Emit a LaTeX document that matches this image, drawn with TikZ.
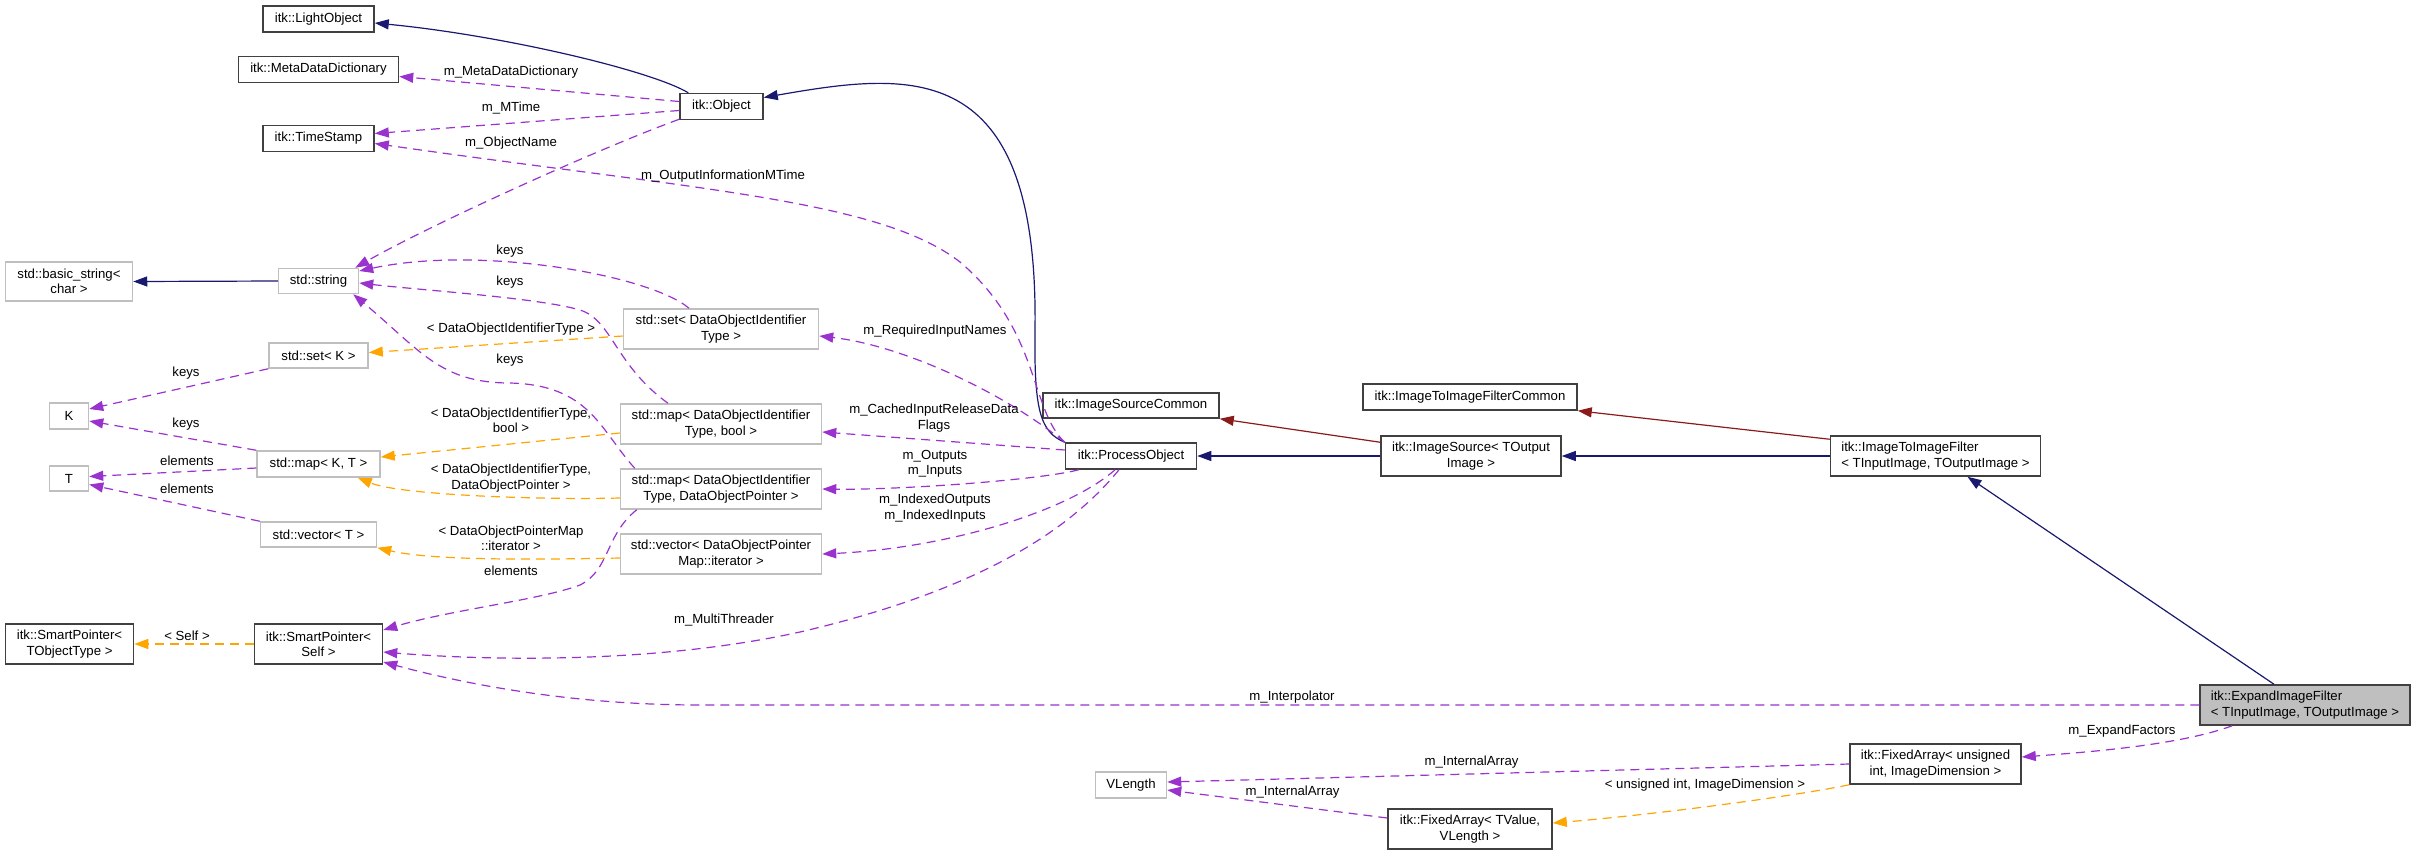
\documentclass[tikz,border=0pt]{standalone}
\usepackage{fontspec}
\setmainfont{Liberation Sans}
\usepackage{tikz}
\usetikzlibrary{arrows.meta}
\definecolor{UsePurple}{RGB}{154,50,205}
\definecolor{TemplOrange}{RGB}{255,165,0}
\definecolor{InheritBlue}{RGB}{25,25,112}
\definecolor{ProtRed}{RGB}{139,26,26}
\definecolor{BoxDark}{RGB}{64,64,64}
\definecolor{BoxLight}{RGB}{191,191,191}
\definecolor{FocusFill}{RGB}{191,191,191}
\newcommand{\graphfont}{\fontsize{13.2}{15.3}\selectfont}
\tikzset{
  docnode/.style={draw=BoxDark,fill=white,line width=1.5pt,inner sep=2pt,align=center,font=\graphfont},
  undocnode/.style={draw=BoxLight,fill=white,line width=1.5pt,inner sep=2pt,align=center,font=\graphfont},
  focusnode/.style={docnode,fill=FocusFill,align=left},
  lbl/.style={inner sep=0pt,align=center,font=\graphfont},
  inherit/.style={-{Triangle[length=14pt,width=10pt]},line width=1.2pt,draw=InheritBlue},
  protinherit/.style={-{Triangle[length=14pt,width=10pt]},line width=1.2pt,draw=ProtRed},
  usage/.style={-{Triangle[length=14pt,width=10pt]},line width=1.2pt,dash pattern=on 9pt off 6pt,draw=UsePurple},
  templ/.style={-{Triangle[length=14pt,width=10pt]},line width=1.2pt,dash pattern=on 9pt off 6pt,draw=TemplOrange}
}

\begin{document}
\begin{tikzpicture}[x=1pt,y=-1pt]
\useasboundingbox (0,0) rectangle (2416,855);

% classes
\node[docnode,minimum width=111pt,minimum height=26pt] (light) at (318.5,19) {itk::LightObject};
\node[docnode,minimum width=160pt,minimum height=26pt] (meta) at (318.5,69.5) {itk::MetaDataDictionary};
\node[docnode,minimum width=111pt,minimum height=26pt] (stamp) at (318.5,138.5) {itk::TimeStamp};
\node[docnode,minimum width=83pt,minimum height=26pt] (obj) at (721.5,106.5) {itk::Object};
\node[undocnode,minimum width=127pt,minimum height=39pt] (bstr) at (69,281.5) {std::basic\_string<\\char >};
\node[undocnode,minimum width=80pt,minimum height=25pt] (str) at (318.5,281) {std::string};
\node[undocnode,minimum width=99pt,minimum height=25pt] (setk) at (318.5,355.5) {std::set< K >};
\node[undocnode,minimum width=39pt,minimum height=26pt] (kk) at (69,416) {K};
\node[undocnode,minimum width=39pt,minimum height=25pt] (tt) at (69,478.5) {T};
\node[undocnode,minimum width=123pt,minimum height=26pt] (mapkt) at (318.5,464) {std::map< K, T >};
\node[undocnode,minimum width=116pt,minimum height=25pt] (vect) at (318.5,534.5) {std::vector< T >};
\node[docnode,minimum width=128pt,minimum height=40pt] (sptobj) at (69.5,644) {itk::SmartPointer<\\TObjectType >};
\node[docnode,minimum width=128pt,minimum height=40pt] (sptself) at (318.5,644) {itk::SmartPointer<\\Self >};
\node[undocnode,minimum width=195pt,minimum height=40pt] (setid) at (721,329) {std::set< DataObjectIdentifier\\Type >};
\node[undocnode,minimum width=201pt,minimum height=40pt] (mapbool) at (721,424) {std::map< DataObjectIdentifier\\Type, bool >};
\node[undocnode,minimum width=201pt,minimum height=40pt] (mapdop) at (721,489) {std::map< DataObjectIdentifier\\Type, DataObjectPointer >};
\node[undocnode,minimum width=201pt,minimum height=40pt] (vecdop) at (721,554) {std::vector< DataObjectPointer\\Map::iterator >};
\node[docnode,minimum width=176pt,minimum height=25pt] (srccommon) at (1131,405.5) {itk::ImageSourceCommon};
\node[docnode,minimum width=131pt,minimum height=26pt] (proc) at (1131,456) {itk::ProcessObject};
\node[undocnode,minimum width=71pt,minimum height=26pt] (vlen) at (1131,785) {VLength};
\node[docnode,minimum width=180pt,minimum height=40pt] (src) at (1471,456) {itk::ImageSource< TOutput\\Image >};
\node[docnode,minimum width=214pt,minimum height=26pt] (filtcommon) at (1470,397) {itk::ImageToImageFilterCommon};
\node[docnode,minimum width=164pt,minimum height=40pt] (fixval) at (1470,829) {itk::FixedArray< TValue,\\VLength >};
\node[docnode,align=left,minimum width=210pt,minimum height=40pt] (filt) at (1935.5,456) {itk::ImageToImageFilter\\< TInputImage, TOutputImage >};
\node[docnode,minimum width=171pt,minimum height=40pt] (fixuint) at (1935.5,764) {itk::FixedArray< unsigned\\int, ImageDimension >};
\node[focusnode,minimum width=210pt,minimum height=40pt] (expand) at (2305,705) {itk::ExpandImageFilter\\< TInputImage, TOutputImage >};

% inheritance
\draw[inherit] (str.west) -- (bstr.east);
\draw[inherit] ([xshift=9pt]obj.north west) .. controls (650,70) and (500,35) .. ([yshift=-4pt]light.east);
\draw[inherit] (proc.north west) .. controls (1040,432) and (1034,410) .. (1035,330)
  .. controls (1039,55) and (910,72) .. ([yshift=9pt]obj.east);
\draw[inherit] (src.west) -- (proc.east);
\draw[inherit] (filt.west) -- (src.east);
\draw[inherit] ([xshift=-31pt]expand.north) -- ([xshift=32pt]filt.south);
\draw[protinherit] ([yshift=-7pt]src.north west) -- (srccommon.south east);
\draw[protinherit] ([yshift=-4pt]filt.north west) -- (filtcommon.south east);

% template arguments
\draw[templ] (sptself.west) -- (sptobj.east) node[lbl] at (187,636) {< Self >};
\draw[templ] ([yshift=-7pt]setid.west) -- ([yshift=3pt]setk.east)
  node[lbl] at (511,329) {< DataObjectIdentifierType >};
\draw[templ] ([yshift=-9pt]mapbool.west) -- ([yshift=7pt]mapkt.east)
  node[lbl] at (511,420) {< DataObjectIdentifierType,\\bool >};
\draw[templ] ([yshift=-9pt]mapdop.west) .. controls (540,500) and (400,495) .. ([xshift=-23pt]mapkt.south east)
  node[lbl] at (511,478) {< DataObjectIdentifierType,\\DataObjectPointer >};
\draw[templ] ([yshift=-4pt]vecdop.west) .. controls (520,560) and (430,560) .. (vect.south east)
  node[lbl] at (511,538) {< DataObjectPointerMap\\::iterator >};
\draw[templ] (fixuint.south west) .. controls (1790,797) and (1650,815) .. ([yshift=6pt]fixval.east)
  node[lbl] at (1705,785) {< unsigned int, ImageDimension >};

% members
\draw[usage] ([yshift=5pt]obj.west) -- ([yshift=-7pt]meta.east) node[lbl] at (511,72) {m\_MetaDataDictionary};
\draw[usage] ([yshift=-4pt]obj.west) -- ([yshift=5pt]stamp.east) node[lbl] at (511,108) {m\_MTime};
\draw[usage] ([yshift=1pt]obj.south west) .. controls (600,148) and (430,225) .. ([xshift=-4pt]str.north east)
  node[lbl] at (511,143) {m\_ObjectName};
\draw[usage] (proc.north west) .. controls (1030,410) and (1040,330) .. (960,262)
  .. controls (880,200) and (700,190) .. ([yshift=-5pt]stamp.east)
  node[lbl] at (723,176) {m\_OutputInformationMTime};
\draw[usage] ([xshift=-32pt]setid.north) .. controls (650,275) and (480,245) .. ([yshift=10pt]str.east)
  node[lbl] at (510,251) {keys};
\draw[usage] ([xshift=-53pt]mapbool.north) .. controls (615,365) and (612,320) .. (580,310)
  .. controls (540,298) and (420,290) .. ([yshift=-2pt]str.east)
  node[lbl] at (510,282) {keys};
\draw[usage] ([xshift=15pt]mapdop.north west) .. controls (600,430) and (590,385) .. (510,383)
  .. controls (440,383) and (420,350) .. ([xshift=-6pt]str.south east)
  node[lbl] at (510,360) {keys};
\draw[usage] ([xshift=17pt]mapdop.south west) .. controls (605,535) and (610,570) .. (580,585)
  .. controls (540,600) and (450,610) .. ([yshift=14pt]sptself.east)
  node[lbl] at (511,571) {elements};
\draw[usage] (setk.south west) -- ([yshift=7pt]kk.east) node[lbl] at (186,373) {keys};
\draw[usage] (mapkt.north west) -- ([yshift=-5pt]kk.east) node[lbl] at (186,424) {keys};
\draw[usage] ([yshift=-4pt]mapkt.west) -- ([yshift=2pt]tt.east) node[lbl] at (187,461) {elements};
\draw[usage] (vect.north west) -- ([yshift=-6pt]tt.east) node[lbl] at (187,489) {elements};
\draw[usage] (proc.north west) .. controls (1000,390) and (900,345) .. ([yshift=-7pt]setid.east)
  node[lbl] at (935,331) {m\_RequiredInputNames};
\draw[usage] ([yshift=6pt]proc.west) -- ([yshift=-8pt]mapbool.east)
  node[lbl] at (934,418) {m\_CachedInputReleaseData\\Flags};
\draw[usage] ([xshift=14pt]proc.south west) .. controls (1040,480) and (900,490) .. (mapdop.east)
  node[lbl] at (935,464) {m\_Outputs\\m\_Inputs};
\draw[usage] ([xshift=-16pt]proc.south) .. controls (1070,510) and (950,548) .. (vecdop.east)
  node[lbl] at (935,508) {m\_IndexedOutputs\\m\_IndexedInputs};
\draw[usage] ([xshift=-12pt]proc.south) .. controls (1070,530) and (980,590) .. (800,632)
  .. controls (650,665) and (480,660) .. ([yshift=-8pt]sptself.east)
  node[lbl] at (724,620) {m\_MultiThreader};
\draw[usage] (expand.west) -- (700,705) .. controls (560,705) and (450,680) .. ([yshift=-18pt]sptself.east)
  node[lbl] at (1292,697) {m\_Interpolator};
\draw[usage] ([xshift=33pt]expand.south west) .. controls (2180,745) and (2090,752) .. ([yshift=7pt]fixuint.east)
  node[lbl] at (2122,731) {m\_ExpandFactors};
\draw[usage] (fixuint.west) -- ([yshift=3pt]vlen.east) node[lbl] at (1471.5,762) {m\_InternalArray};
\draw[usage] ([yshift=11pt]fixval.west) -- ([yshift=-5pt]vlen.east) node[lbl] at (1292.5,792) {m\_InternalArray};
\end{tikzpicture}
\end{document}
